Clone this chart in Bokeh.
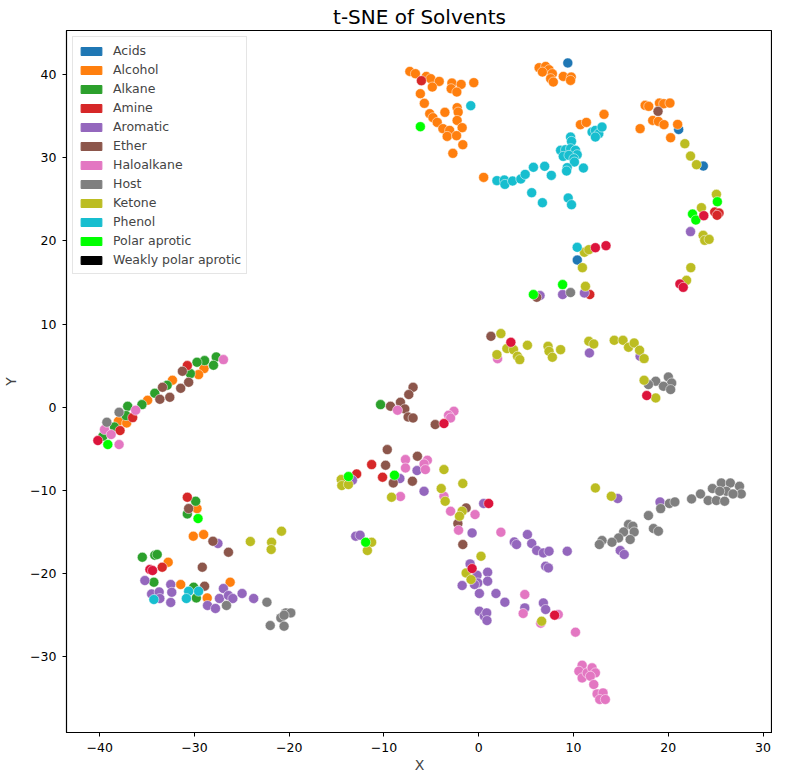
from bokeh.plotting import figure
from bokeh.models import ColumnDataSource, Range1d, FixedTicker, Legend, LegendItem, Title
from bokeh.embed import file_html
from bokeh.resources import INLINE

categories = ["Acids", "Alcohol", "Alkane", "Amine", "Aromatic", "Ether", "Haloalkane",
              "Host", "Ketone", "Phenol", "Polar aprotic", "Weakly polar aprotic"]
colors = ["#1f77b4", "#ff7f0e", "#2ca02c", "#d62728", "#9467bd", "#8c564b", "#e377c2",
          "#7f7f7f", "#bcbd22", "#17becf", "#00ff00", "#000000"]

acids_x = [9.4, 21.1, 23.7, 10.4]
acids_y = [41.4, 33.4, 29.0, 17.7]

alcohol_x = [-7.27, -6.68, -5.53, -5.07, -4.17, -4.90, -2.83, -1.86, -2.91, -2.31, -0.52, -6.16,
             -5.74, -3.57, -2.28, -2.17, -5.17, -4.83, -4.38, -3.78, -3.07, -2.28, -1.75, -3.33,
             -2.34, -1.68, -2.73, 0.52,
             6.37, 7.06, 7.42, 6.72, 7.77, 7.59, 7.87, 8.92, 9.76, 9.69, 13.22, 10.73, 11.36,
             17.56, 17.94, 19.07, 19.52, 20.18, 18.36, 18.96, 19.55, 17.03, 20.99, 20.25,
             -28.99, -29.56, -32.32, -34.94, -38.02, -37.15,
             -29.73, -30.12, -29.03, -32.77, -31.45, -26.23, -28.65]
alcohol_y = [40.38, 40.11, 39.78, 39.51, 39.18, 38.50, 38.98, 38.82, 38.30, 37.90, 39.03, 37.70,
             36.54, 35.46, 36.02, 35.49, 35.30, 34.82, 34.25, 33.50, 33.29, 34.49, 33.62, 32.57,
             32.66, 31.57, 30.53, 27.64,
             40.83, 40.98, 40.59, 40.30, 40.11, 39.51, 39.10, 39.78, 39.70, 39.30, 35.22, 33.98, 34.25,
             36.30, 36.18, 36.57, 36.50, 36.57, 34.49, 34.37, 33.98, 33.50, 34.01, 32.41,
             4.65, 3.93, 3.25, 0.84, -1.68, -1.89,
             -12.18, -15.50, -15.30, -18.63, -21.31, -21.03, -22.92]

alkane_x = [-27.70, -27.99, -28.93, -29.73, -30.43, -32.88, -34.18, -35.54, -37.04, -37.22, -38.44,
            -39.66, -10.36, -29.87, -30.75, -35.50, -34.18, -33.93, -34.28, -30.08, -29.80]
alkane_y = [6.05, 5.05, 5.61, 5.41, 4.05, 2.64, 1.68, 0.32, 0.12, -1.00, -2.37,
            -3.49, 0.32, -11.30, -12.82, -18.03, -17.79, -17.70, -21.03, -21.63, -22.92]

amine_x = [-6.05, 24.90, 25.36, 25.15, -30.75, -36.52, -37.85, -11.30, -12.88, -10.15, 11.72,
           -30.75, -33.40]
amine_y = [39.27, 23.47, 23.35, 23.08, 5.01, -1.24, -2.80, -6.89, -8.02, -8.41, 13.55,
           -10.82, -19.23]

aromatic_x = [22.35, 6.47, 8.85, 11.15, 11.68, 17.03, 14.66, 19.13, -13.33, -8.32, -6.51, -5.77,
              0.52, -27.52, -35.23, -32.50, -26.94, -34.52, -33.72, -33.65, -32.39, -32.50,
              -27.36, -26.41, -25.95, -24.97, -23.75, -28.62, -27.78, -12.98, -12.52, -0.70,
              3.75, 3.99, 5.14, 5.59, 6.12, 6.82, 7.42, 9.34, 7.06, 7.35, -0.91, -0.18, -0.10,
              0.94, 0.94, -0.45, -1.75, 0.07, 1.82, 2.76, 0.07, 0.60, 0.84, 0.87, 4.86, 6.82,
              7.06, 14.93, 15.35]
aromatic_y = [21.12, 13.43, 13.55, 13.74, 6.53, 6.13, -10.97, -11.38, -8.77, -8.57, -7.61, -10.10,
              -11.57, -16.38, -20.83, -21.31, -21.79, -22.44, -22.20, -22.99, -22.24, -23.47,
              -22.99, -22.63, -22.99, -22.39, -22.99, -23.83, -24.19, -15.50, -15.38, -15.11,
              -16.19, -16.50, -15.30, -16.38, -17.22, -17.51, -17.31, -17.31, -19.11, -19.31,
              -18.83, -20.19, -21.12, -19.83, -20.91, -21.31, -21.43, -22.39, -22.39, -23.44,
              -24.52, -25.12, -24.72, -25.64, -24.12, -23.52, -24.31, -17.22, -17.70]

ether_x = [18.92, -31.27, -33.37, -30.61, -31.45, -32.60, -33.65, 6.12, 1.29, -6.93, -7.38, -8.26,
           -9.31, -7.80, -7.45, -6.93, -4.59, -9.65, -9.83, -9.02, -7.00, -6.47, -1.33, -30.61,
           -28.05, -26.41, -29.17, -28.93, -2.20, -1.68]
ether_y = [35.58, 4.33, 2.40, 3.00, 2.28, 1.20, 0.96, 13.22, 8.53, 2.40, 1.53, 0.60,
           0.12, -0.20, -1.17, -1.29, -2.08, -5.09, -6.97, -9.10, -8.89, -5.89, -12.10, -12.18,
           -16.11, -17.43, -19.23, -21.51, -13.98, -16.50]

haloalkane_x = [-26.94, -36.20, -39.49, -38.79, -37.95, 1.99, -8.57, -2.62, -3.18, -2.97, -7.73,
                -7.73, -5.42, -5.77, -5.63, -3.67, -8.26, -2.97, -2.13, -0.39, 2.34, 4.86, 4.69,
                6.54, 8.39, 10.21, 10.91, 10.57, 10.91, 11.44, 11.96, 12.31, 11.78, 12.14, 12.49,
                13.12, 12.77, 13.36]
haloalkane_y = [5.73, -0.36, -2.68, -3.28, -4.48, 5.85, -0.36, -0.48, -0.96, -1.29, -6.29,
                -7.30, -6.37, -6.81, -7.49, -10.70, -10.73, -12.50, -14.78, -12.90, -15.02, -22.51,
                -24.79, -25.96, -24.91, -27.04, -31.01, -31.73, -32.54, -31.93, -31.33, -31.93,
                -32.33, -33.33, -34.46, -34.34, -35.13, -35.13]

host_x = [9.69, -37.95, -39.24, 18.68, 20.01, 20.36, 19.49, 20.25, 17.91, 20.12, 20.70, 19.20,
          22.46, 23.40, 24.21, 24.66, 25.60, 26.55, 27.52, 27.70, 26.13, 25.08, 25.95, 26.83,
          25.43, -26.62, -22.35, -20.36, -19.83, -20.88, -20.54, -22.00, -20.54, 17.91, 15.81,
          16.26, 16.40, 15.29, 14.76, 14.06, 13.01, 12.73, 15.98, 18.44, 18.96]
host_y = [13.79, -0.60, -1.80, 3.13, 3.64, 2.92, 2.52, 2.13, 2.73, -11.57, -11.38, -12.18,
          -11.02, -10.42, -11.21, -9.77, -9.10, -9.10, -9.50, -10.42, -10.10, -11.21, -11.30,
          -10.42, -10.10, -23.83, -23.44, -24.72, -24.72, -25.32, -25.00, -26.24, -26.32, -13.02,
          -14.10, -14.30, -14.99, -14.99, -15.71, -16.23, -16.02, -16.50, -15.90, -14.58, -14.90]

ketone_x = [21.75, 22.35, 22.98, 25.08, 23.50, 23.68, 23.85, 24.31, 22.38, 11.15, 11.62, 10.94,
            11.26, 21.93, 2.34, 5.14, 1.92, 2.97, 3.67, 4.09, 4.33, 7.31, 7.42, 7.77, 8.64, 11.62,
            12.14, 14.30, 15.22, 15.81, 16.40, 16.97, 17.45, 17.45, 18.68, 12.31, 13.99, -14.51,
            -14.45, -13.75, -3.67, -1.68, -3.96, -3.54, -9.20, -1.75, -2.03, -24.10, -21.86,
            -21.90, -20.81, -11.30, -11.75, 0.24, -1.33, -0.81, 6.64]
ketone_y = [31.69, 30.20, 29.17, 25.60, 24.00, 20.67, 20.07, 20.19, 16.79, 18.63, 18.95, 16.79,
            14.54, 15.26, 8.86, 7.45, 6.33, 7.06, 6.93, 6.13, 5.73, 7.33, 6.73, 6.01, 6.93, 7.93,
            7.61, 8.05, 8.05, 7.21, 7.73, 6.85, 5.85, 3.25, 1.12, -9.70, -10.70, -8.69,
            -9.41, -9.29, -7.49, -9.17, -9.77, -11.30, -10.82, -12.50, -13.10, -16.14, -16.23,
            -17.10, -14.90, -16.23, -17.22, -17.91, -19.92, -20.71, -25.72]

phenol_x = [-0.84, 1.92, 2.70, 2.76, 3.57, 4.44, 4.90, 5.77, 6.96, 5.59, 6.72, 11.96, 12.31, 12.67,
            13.01, 12.31, 9.69, 9.79, 8.64, 9.16, 9.69, 10.21, 10.39, 8.92, 9.52, 10.04, 10.10,
            9.34, 9.27, 11.05, 7.66, 9.44, 9.79, 10.39, -34.28, -30.61, -29.56, -30.85]
phenol_y = [36.26, 27.25, 27.32, 26.80, 27.20, 27.44, 28.00, 28.85, 28.97, 25.80, 24.60, 33.09,
            33.29, 32.90, 33.69, 32.49, 32.49, 31.97, 30.89, 30.97, 31.09, 30.89, 30.37, 30.17,
            30.29, 29.89, 29.48, 28.81, 28.40, 28.76, 27.88, 25.16, 24.36, 19.23, -23.11, -22.12,
            -22.12, -22.99]

polar_aprotic_x = [-6.16, 25.18, 22.56, 22.91, -39.14, 5.77, 8.85, -13.75, -8.89, -29.62, -11.93]
polar_aprotic_y = [33.74, 24.72, 23.23, 22.51, -4.48, 13.55, 14.75, -8.33, -8.17, -13.38, -16.23]

weakly_polar_aprotic_x = []
weakly_polar_aprotic_y = []

# points drawn in a deeper red, without a legend entry
other_red_x = [23.75, 12.31, 13.43, -40.19, 3.39, -3.67, 21.23, 21.58, 17.73, 1.05, -34.70,
               -34.42, -0.70, 8.01]
other_red_y = [23.04, 19.19, 19.43, -4.00, 7.81, -1.96, 14.82, 14.42, 1.41, -11.57, -19.51,
               -19.63, -19.39, -25.00]
other_red_color = "#dc143c"

series_x = [acids_x, alcohol_x, alkane_x, amine_x, aromatic_x, ether_x, haloalkane_x, host_x,
            ketone_x, phenol_x, polar_aprotic_x, weakly_polar_aprotic_x]
series_y = [acids_y, alcohol_y, alkane_y, amine_y, aromatic_y, ether_y, haloalkane_y, host_y,
            ketone_y, phenol_y, polar_aprotic_y, weakly_polar_aprotic_y]

x_ticks = [-40, -30, -20, -10, 0, 10, 20, 30]
y_ticks = [-30, -20, -10, 0, 10, 20, 30, 40]

FONT = "DejaVu Sans"
NAN = float("nan")

p = figure(width=772, height=775, output_backend="svg", toolbar_location=None,
           x_range=Range1d(-43.5, 31.0), y_range=Range1d(-39.1, 45.3),
           min_border_left=59, min_border_right=0, min_border_top=21, min_border_bottom=40)
p.title = Title(text="t-SNE of Solvents", align="center", text_font=FONT,
                text_font_size="20px", text_font_style="normal", text_color="black",
                standoff=4, offset=0)
p.grid.visible = False
p.outline_line_color = "black"
p.outline_line_width = 1.2
p.background_fill_color = "white"
p.border_fill_color = "white"

for ax, ticks, lab in ((p.xaxis[0], x_ticks, "X"), (p.yaxis[0], y_ticks, "Y")):
    ax.ticker = FixedTicker(ticks=ticks)
    ax.major_label_overrides = {t: str(t).replace("-", "\u2212") for t in ticks}
    ax.axis_label = lab
    ax.axis_label_text_font = FONT
    ax.axis_label_text_font_size = "14px"
    ax.axis_label_text_font_style = "normal"
    ax.major_label_text_font = FONT
    ax.major_label_text_font_size = "12.5px"
    ax.major_label_text_color = "black"
    ax.major_tick_out = 4
    ax.major_tick_in = 0
    ax.minor_tick_out = 0
    ax.minor_tick_in = 0
    ax.axis_line_color = "black"
    ax.major_tick_line_color = "black"
p.xaxis.major_label_standoff = 6
p.xaxis.axis_label_standoff = 2
p.yaxis.major_label_standoff = 6
p.yaxis.axis_label_standoff = 8

for xs, ys, c in zip(series_x, series_y, colors):
    if xs:
        p.scatter(x="x", y="y", source=ColumnDataSource(dict(x=xs, y=ys)), size=10,
                  fill_color=c, line_color="white", line_width=0.5)
p.scatter(x="x", y="y", source=ColumnDataSource(dict(x=other_red_x, y=other_red_y)), size=10,
          fill_color=other_red_color, line_color="white", line_width=0.5)

items = []
for name, c in zip(categories, colors):
    r = p.quad(left=[NAN], right=[NAN], top=[NAN], bottom=[NAN], fill_color=c, line_color=c)
    items.append(LegendItem(label=name, renderers=[r]))
legend = Legend(items=items, location="top_left", glyph_width=26, glyph_height=10,
                label_text_font=FONT, label_text_font_size="12.5px", label_height=17,
                label_standoff=9, spacing=2, padding=5, margin=6,
                border_line_color="#cccccc", border_line_width=1,
                background_fill_color="white", background_fill_alpha=0.8)
p.add_layout(legend, "center")

open("out.html", "w").write(file_html(p, INLINE))
